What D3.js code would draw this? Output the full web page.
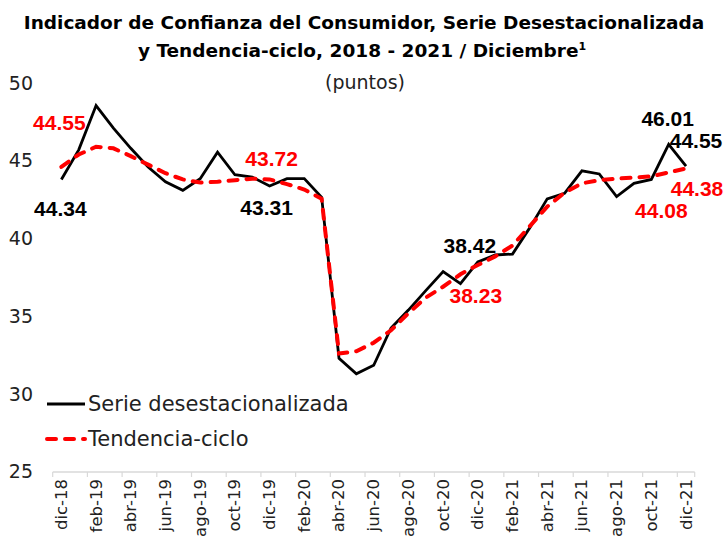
<!DOCTYPE html>
<html>
<head>
<meta charset="utf-8">
<script src="https://cdn.jsdelivr.net/npm/d3@7"></script>
<style>
  body { margin: 0; background: #fff; }
  svg { display: block; }
</style>
</head>
<body>
<div id="chart"></div>
<script>
// months dic-18 .. dic-21
var months = ['dic-18', 'ene-19', 'feb-19', 'mar-19', 'abr-19', 'may-19', 'jun-19', 'jul-19', 'ago-19', 'sep-19', 'oct-19', 'nov-19',
    'dic-19', 'ene-20', 'feb-20', 'mar-20', 'abr-20', 'may-20', 'jun-20', 'jul-20', 'ago-20', 'sep-20', 'oct-20', 'nov-20',
    'dic-20', 'ene-21', 'feb-21', 'mar-21', 'abr-21', 'may-21', 'jun-21', 'jul-21', 'ago-21', 'sep-21', 'oct-21', 'nov-21', 'dic-21'];

// Serie desestacionalizada
var serie = [43.8, 45.7, 48.55, 47.1, 45.8, 44.6, 43.65, 43.1, 43.85, 45.55, 44.1, 43.95,
    43.38, 43.85, 43.85, 42.65, 32.3, 31.3, 31.85, 34.25, 35.4, 36.65, 37.87, 37.1,
    38.5, 38.94, 39.0, 40.7, 42.55, 42.9, 44.35, 44.15, 42.7, 43.55, 43.8, 46.05, 44.65];

// Tendencia-ciclo
var tendencia = [44.6, 45.4, 45.9, 45.8, 45.3, 44.75, 44.2, 43.8, 43.6, 43.65, 43.75, 43.85,
    43.8, 43.5, 43.15, 42.55, 32.6, 32.75, 33.3, 34.1, 35.2, 36.2, 36.9, 37.7,
    38.3, 38.85, 39.55, 40.8, 42.05, 42.95, 43.55, 43.75, 43.85, 43.92, 44.0, 44.25, 44.5];

var yTicks = [25, 30, 35, 40, 45, 50];

// data labels: month index, text
var serieLabels = [[0, '44.34'], [12, '43.31'], [24, '38.42'], [35, '46.01'], [36, '44.55']];
var tendLabels = [[0, '44.55'], [12, '43.72'], [24, '38.23'], [34, '44.08'], [36, '44.38']];

var W = 727, H = 542;
var gothic = "'DejaVu Sans', sans-serif";
var svg = d3.select('#chart').append('svg').attr('width', W).attr('height', H);

var x = d3.scaleBand().domain(months).range([52.7, 694.7]).padding(0);
var y = d3.scaleLinear().domain([25, 50]).range([471.8, 83]);
var cx = function (m) { return x(m) + x.bandwidth() / 2; };

// title
var title = svg.append('text')
    .attr('text-anchor', 'middle')
    .attr('font-family', gothic)
    .attr('font-weight', 'bold')
    .attr('font-size', 18.5)
    .attr('fill', '#000');
title.append('tspan').attr('x', 364).attr('y', 29)
    .text('Indicador de Confianza del Consumidor, Serie Desestacionalizada');
title.append('tspan').attr('x', 362).attr('y', 57).text('y Tendencia-ciclo, 2018 - 2021 / Diciembre');
title.append('tspan').attr('dy', -7).attr('font-size', 11).text('1');

svg.append('text')
    .attr('x', 365).attr('y', 89)
    .attr('text-anchor', 'middle')
    .attr('font-family', gothic)
    .attr('font-size', 19)
    .attr('fill', '#222')
    .text('(puntos)');

// y axis (labels only)
var yAxis = svg.append('g')
    .attr('transform', 'translate(33,0)')
    .call(d3.axisLeft(y).tickValues(yTicks).tickSize(0).tickPadding(0));
yAxis.select('.domain').remove();
yAxis.selectAll('text')
    .attr('font-family', gothic)
    .attr('font-size', 19)
    .attr('fill', '#222');

// x axis
var xAxis = svg.append('g').attr('transform', 'translate(0,472)');
xAxis.append('line')
    .attr('x1', x.range()[0]).attr('x2', x.range()[1])
    .attr('stroke', '#d9d9d9').attr('stroke-width', 1.5);
var tickPos = months.filter(function (m, i) { return i % 2 === 0; }).map(function (m) { return x(m); });
tickPos.push(x.range()[1]);
xAxis.selectAll('line.tk').data(tickPos).enter().append('line')
    .attr('class', 'tk')
    .attr('x1', function (d) { return d; }).attr('x2', function (d) { return d; })
    .attr('y1', 0).attr('y2', 5)
    .attr('stroke', '#d9d9d9').attr('stroke-width', 1.2);
xAxis.selectAll('text.lab')
    .data(months.filter(function (m, i) { return i % 2 === 0; }))
    .enter().append('text')
    .attr('class', 'lab')
    .attr('transform', function (d) { return 'translate(' + (cx(d) + 5.5) + ',7) rotate(-90)'; })
    .attr('text-anchor', 'end')
    .attr('font-family', gothic)
    .attr('font-size', 16.5)
    .attr('fill', '#222')
    .text(function (d) { return d; });

// lines
var line = function (vals) {
    return d3.line()
        .x(function (d, i) { return cx(months[i]); })
        .y(function (d) { return y(d); })(vals);
};

svg.append('path')
    .attr('d', line(serie))
    .attr('fill', 'none')
    .attr('stroke', '#000')
    .attr('stroke-width', 2.8)
    .attr('stroke-linejoin', 'miter');

svg.append('path')
    .attr('d', line(tendencia))
    .attr('fill', 'none')
    .attr('stroke', '#ff0000')
    .attr('stroke-width', 4)
    .attr('stroke-dasharray', '9,9')
    .attr('stroke-linecap', 'round');

// data labels
var labelFont = "'Liberation Sans', Arial, sans-serif";
var serieOff = {0: [-1, 37], 12: [-3, 29], 24: [-8, -9], 35: [-1, -18], 36: [10, -18]};
var tendOff = {0: [-2, -37], 12: [2, -13], 24: [-2, 38], 34: [10, 42], 36: [11, 27]};

svg.selectAll('text.sl').data(serieLabels).enter().append('text')
    .attr('class', 'sl')
    .attr('x', function (d) { return cx(months[d[0]]) + serieOff[d[0]][0]; })
    .attr('y', function (d) { return y(serie[d[0]]) + serieOff[d[0]][1]; })
    .attr('text-anchor', 'middle')
    .attr('font-family', labelFont)
    .attr('font-weight', 'bold')
    .attr('font-size', 21)
    .attr('fill', '#000')
    .text(function (d) { return d[1]; });

svg.selectAll('text.tl').data(tendLabels).enter().append('text')
    .attr('class', 'tl')
    .attr('x', function (d) { return cx(months[d[0]]) + tendOff[d[0]][0]; })
    .attr('y', function (d) { return y(tendencia[d[0]]) + tendOff[d[0]][1]; })
    .attr('text-anchor', 'middle')
    .attr('font-family', labelFont)
    .attr('font-weight', 'bold')
    .attr('font-size', 21)
    .attr('fill', '#ff0000')
    .text(function (d) { return d[1]; });

// legend
var legend = svg.append('g');
var items = [
    {name: 'Serie desestacionalizada', color: '#000', dash: null, w: 2.8, y: 404},
    {name: 'Tendencia-ciclo', color: '#ff0000', dash: '9,9', w: 4, y: 439}
];
items.forEach(function (it) {
    legend.append('line')
        .attr('x1', 47).attr('x2', 85)
        .attr('y1', it.y).attr('y2', it.y)
        .attr('stroke', it.color)
        .attr('stroke-width', it.w)
        .attr('stroke-dasharray', it.dash)
        .attr('stroke-linecap', it.dash ? 'round' : 'butt');
    legend.append('text')
        .attr('x', 88).attr('y', it.y + 7)
        .attr('font-family', gothic)
        .attr('font-size', 21)
        .attr('fill', '#222')
        .text(it.name);
});
</script>
</body>
</html>
